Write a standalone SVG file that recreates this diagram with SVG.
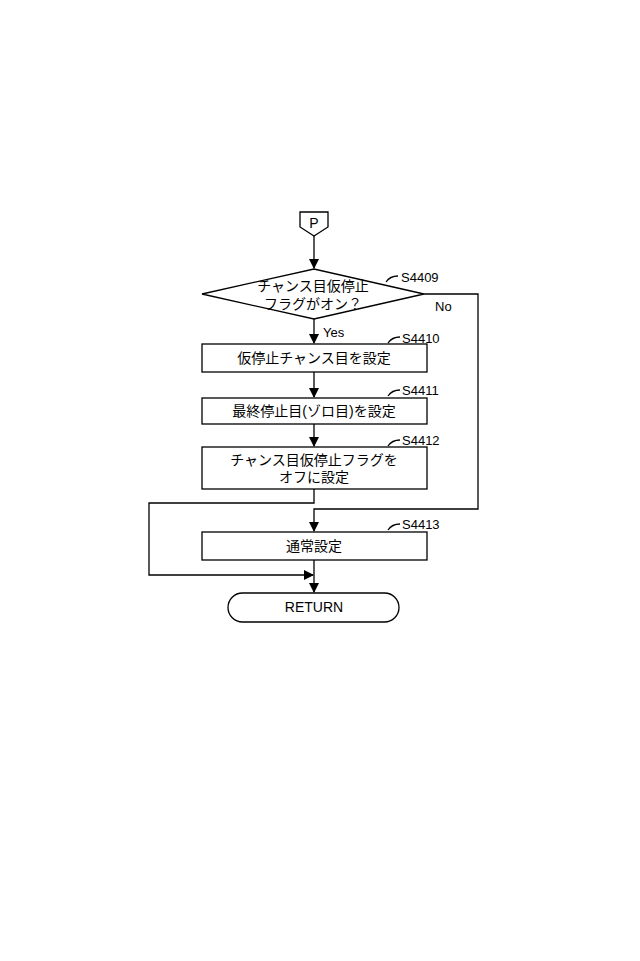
<svg xmlns="http://www.w3.org/2000/svg" width="640" height="961" viewBox="0 0 640 961">
<style>
.s{fill:#fff;stroke:#000;stroke-width:1.3}
.l{fill:none;stroke:#000;stroke-width:1.3}
.t{font-family:"Liberation Sans","Noto Sans CJK JP",sans-serif;font-size:14px;fill:#000;text-anchor:middle}
.k{font-family:"Liberation Sans",sans-serif;font-size:13px;fill:#000}
</style>
<defs><marker id="a" markerWidth="10" markerHeight="10" refX="9" refY="5" orient="auto" markerUnits="userSpaceOnUse"><path d="M0,0 L10,5 L0,10 z"/></marker></defs>
<rect width="640" height="961" fill="#fff"/>
<g id="connectors">
<path class="l" d="M314,236 V268" marker-end="url(#a)"/>
<path class="l" d="M314,319 V343" marker-end="url(#a)"/>
<path class="l" d="M314,372 V397" marker-end="url(#a)"/>
<path class="l" d="M314,424 V446" marker-end="url(#a)"/>
<path class="l" d="M424,294 H478 V509 H314 V531" marker-end="url(#a)"/>
<path class="l" d="M314,489 V503 H149 V575 H313" marker-end="url(#a)"/>
<path class="l" d="M314,560 V592" marker-end="url(#a)"/>
<path class="l" d="M386,282 q4,-6 12,-6"/>
<path class="l" d="M388,343 q4,-6 12,-6"/>
<path class="l" d="M388,396 q4,-6 12,-6"/>
<path class="l" d="M388,446 q4,-6 12,-6"/>
<path class="l" d="M388,530 q4,-6 12,-6"/>
</g>
<g id="P"><path class="s" d="M300,212 H328 V227 L314,236 L300,227 Z"/><text class="t" x="314" y="228">P</text></g>
<g id="S4409"><path class="s" d="M202,294 L314,269 L424,294 L314,319 Z"/><text class="t" x="313" y="291">チャンス目仮停止</text><text class="t" x="313" y="309">フラグがオン？</text><text class="k" x="401" y="282">S4409</text><text class="k" x="435" y="311">No</text><text class="k" x="323" y="337">Yes</text></g>
<g id="S4410"><rect class="s" x="202" y="344" width="225" height="28"/><text class="t" x="314" y="363">仮停止チャンス目を設定</text><text class="k" x="402" y="343">S4410</text></g>
<g id="S4411"><rect class="s" x="202" y="398" width="225" height="26"/><text class="t" x="314" y="416">最終停止目(ゾロ目)を設定</text><text class="k" x="402" y="395">S4411</text></g>
<g id="S4412"><rect class="s" x="202" y="447" width="225" height="42"/><text class="t" x="314" y="465">チャンス目仮停止フラグを</text><text class="t" x="314" y="482">オフに設定</text><text class="k" x="402" y="445">S4412</text></g>
<g id="S4413"><rect class="s" x="202" y="532" width="225" height="28"/><text class="t" x="314" y="551">通常設定</text><text class="k" x="402" y="529">S4413</text></g>
<g id="RETURN"><rect class="s" x="228" y="593" width="171" height="29" rx="14.5"/><text class="t" x="314" y="612">RETURN</text></g>
</svg>
